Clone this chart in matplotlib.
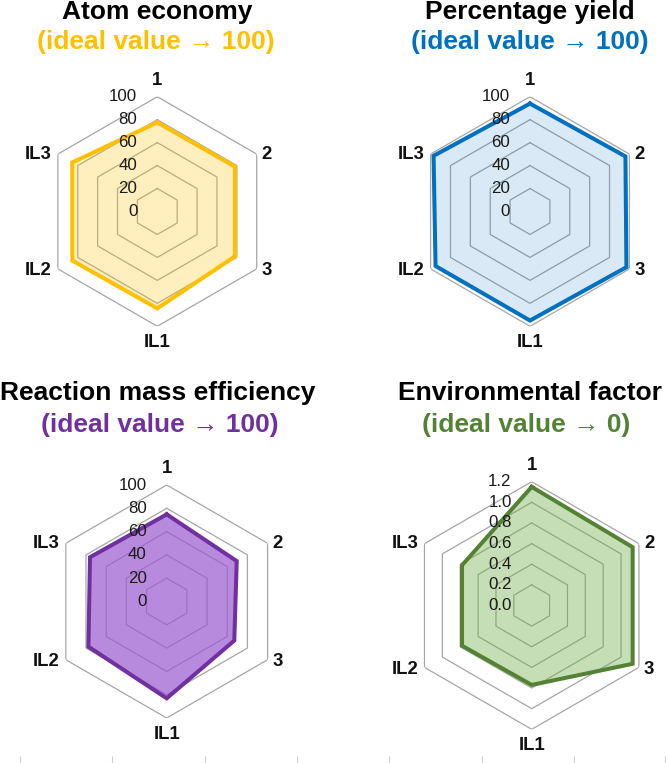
import numpy as np
import matplotlib.pyplot as plt

plt.rcParams['font.family'] = ['Liberation Sans', 'DejaVu Sans']

# axis categories (clockwise from top)
categories = ['1', '2', '3', 'IL1', 'IL2', 'IL3']

# values
atom_economy = [77.6, 78.1, 78.1, 84.4, 85.5, 85.5]
percentage_yield = [94.0, 96.0, 97.0, 95.0, 95.0, 97.0]
reaction_mass_eff = [74.8, 69.4, 67.0, 83.1, 77.6, 76.0]
environmental_factor = [1.15, 1.13, 1.13, 0.77, 0.78, 0.78]

pct_ticks = [0, 20, 40, 60, 80, 100]
pct_labels = ['0', '20', '40', '60', '80', '100']
ef_ticks = [0.0, 0.2, 0.4, 0.6, 0.8, 1.0, 1.2]
ef_labels = ['0.0', '0.2', '0.4', '0.6', '0.8', '1.0', '1.2']

W, H = 666, 763
fig = plt.figure(figsize=(W / 100, H / 100), dpi=100)

# panel layout in pixels: centre x, centre y (from top), radius
panels = [
    dict(values=atom_economy, ticks=pct_ticks, labels=pct_labels,
         title='Atom economy', sub='(ideal value \u2192 100)',
         line='#FFC000', fill='#FFC000', alpha=0.25,
         cx=157.3, cy=211.5, r=114.8, tx=157, ty=12, sx=156, sy=42),
    dict(values=percentage_yield, ticks=pct_ticks, labels=pct_labels,
         title='Percentage yield', sub='(ideal value \u2192 100)',
         line='#0070C0', fill='#0070C0', alpha=0.15,
         cx=530.0, cy=211.5, r=114.8, tx=530, ty=12, sx=530, sy=42),
    dict(values=reaction_mass_eff, ticks=pct_ticks, labels=pct_labels,
         title='Reaction mass efficiency', sub='(ideal value \u2192 100)',
         line='#7030A0', fill='#9B59D0', alpha=0.7,
         cx=166.7, cy=601.5, r=116.5, tx=158, ty=393, sx=160, sy=425),
    dict(values=environmental_factor, ticks=ef_ticks, labels=ef_labels,
         title='Environmental factor', sub='(ideal value \u2192 0)',
         line='#548235', fill='#70AD47', alpha=0.4,
         cx=531.7, cy=605.5, r=123.8, tx=530, ty=393, sx=526, sy=425),
]

n = len(categories)
angles = np.arange(n) * 2 * np.pi / n
closed = np.append(angles, angles[0])

# label offsets (pixels) and alignment per category
label_pos = [
    ((0, 8), 'center', 'bottom'),
    ((5, 0), 'left', 'center'),
    ((5, -2), 'left', 'center'),
    ((0, -8), 'center', 'top'),
    ((-6, -2), 'right', 'center'),
    ((-6, 0), 'right', 'center'),
]

for p in panels:
    r = p['r']
    rect = [(p['cx'] - r) / W, 1 - (p['cy'] + r) / H, 2 * r / W, 2 * r / H]
    ax = fig.add_axes(rect, projection='polar')
    ax.set_theta_zero_location('N')
    ax.set_theta_direction(-1)
    rmax = p['ticks'][-1]
    ax.set_ylim(0, rmax)
    ax.grid(False)
    ax.set_xticks([])
    ax.set_yticks([])
    ax.spines['polar'].set_visible(False)
    ax.patch.set_alpha(0)

    # hexagonal grid rings
    for t in p['ticks'][1:]:
        ax.plot(closed, [t] * (n + 1), color='#a6a6a6', lw=0.9, zorder=1)

    vals = np.append(p['values'], p['values'][0])
    ax.fill(closed, vals, color=p['fill'], alpha=p['alpha'], lw=0, zorder=2)
    ax.plot(closed, vals, color=p['line'], lw=2.9, solid_joinstyle='miter', zorder=3)

    # value labels stacked left of the top axis
    for t, lab in zip(p['ticks'], p['labels']):
        ax.annotate(lab, (0, t), xytext=(-20, 0), textcoords='offset pixels',
                    ha='right', va='center', fontsize=12.2, color='#1a1a1a',
                    zorder=4, annotation_clip=False)

    # category labels
    for a, cat, (off, ha, va) in zip(angles, categories, label_pos):
        ax.annotate(cat, (a, rmax), xytext=off, textcoords='offset pixels',
                    ha=ha, va=va, fontsize=13.3, fontweight='bold',
                    color='#111111', annotation_clip=False)

    fig.text(p['tx'] / W, 1 - p['ty'] / H, p['title'], ha='center', va='center',
             fontsize=19, fontweight='bold', color='black')
    fig.text(p['sx'] / W, 1 - p['sy'] / H, p['sub'], ha='center', va='center',
             fontsize=19, fontweight='bold', color=p['line'])

# faint tick marks along the bottom edge
bottom_tick_x = [20, 112, 205, 297, 389, 482, 574, 665]
bax = fig.add_axes([0, 0, 1, 0.001])
bax.set_xlim(0, W)
bax.set_xticks(bottom_tick_x)
bax.set_yticks([])
bax.tick_params(axis='x', direction='in', length=5, width=0.8,
                color='#d0d0d0', labelbottom=False)
for s in bax.spines.values():
    s.set_visible(False)
bax.patch.set_alpha(0)

fig.savefig('out.png', dpi=100)
